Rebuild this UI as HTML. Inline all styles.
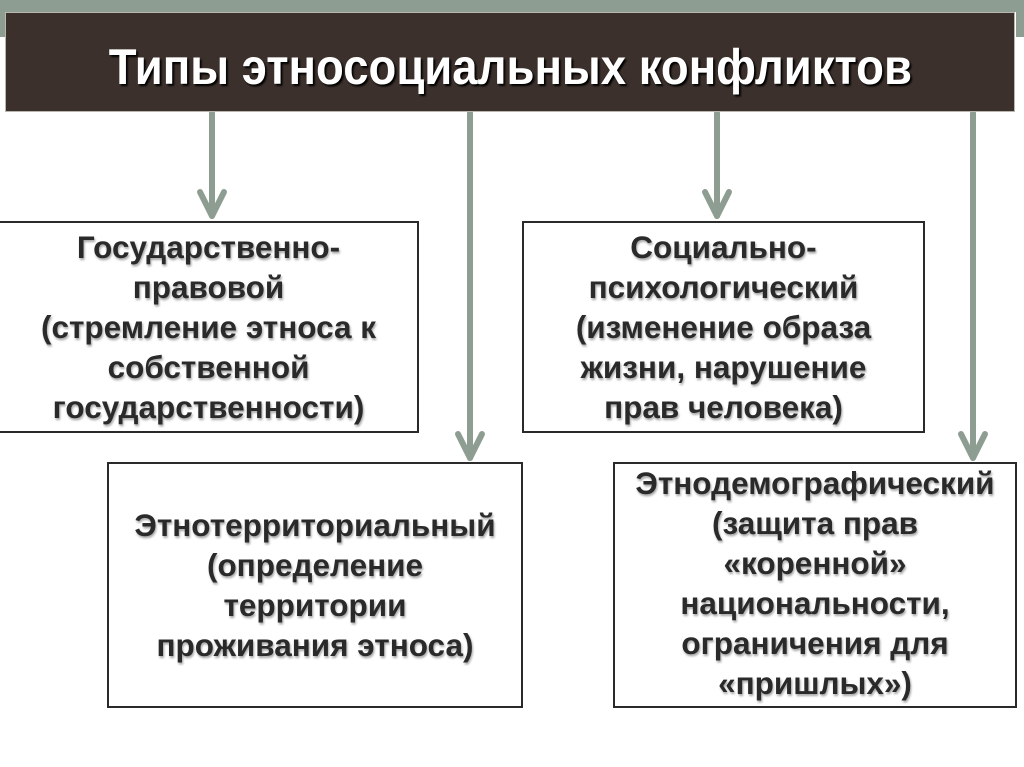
<!DOCTYPE html>
<html><head><meta charset="utf-8"><style>
html,body{margin:0;padding:0}
body{width:1024px;height:767px;position:relative;background:#fff;overflow:hidden;font-family:"Liberation Sans",sans-serif}
.band{position:absolute;left:0;top:0;width:1024px;height:12px;background:#8e9d92}
.bandl{position:absolute;left:0;top:0;width:6px;height:37px;background:#8e9d92}
.bandr{position:absolute;right:0;top:0;width:8px;height:37px;background:#8e9d92}
.title{position:absolute;left:5px;top:12px;width:1010px;height:100px;background:#3b302c;border:1px solid #b8b8b0;box-sizing:border-box;display:flex;align-items:center;justify-content:center}
.title span{display:inline-block;color:#fff;font-family:"Liberation Sans Narrow","Liberation Sans",sans-serif;font-weight:bold;font-size:50px;transform:scaleX(0.91);white-space:nowrap;text-shadow:2px 2px 2px #000;margin-top:9px}
.box{position:absolute;border:2px solid #2a2a2a;box-sizing:border-box;background:#fff;display:flex;align-items:center;justify-content:center;text-align:center;font-weight:bold;font-size:31.5px;line-height:40px;color:#2a2a2a;text-shadow:1px 2px 2px rgba(0,0,0,0.35);white-space:nowrap}
svg{position:absolute;left:0;top:0}
</style></head><body>
<div class="band"></div><div class="bandl"></div><div class="bandr"></div>
<svg width="1024" height="767">
<g stroke="#8e9d92" stroke-width="6" fill="none" stroke-linecap="round" stroke-linejoin="round">
<line x1="212" y1="113" x2="212" y2="216"/><polyline points="200,192 212,216 224,192"/>
<line x1="470" y1="113" x2="470" y2="458"/><polyline points="458,434 470,458 482,434"/>
<line x1="717" y1="113" x2="717" y2="216"/><polyline points="705,192 717,216 729,192"/>
<line x1="973" y1="113" x2="973" y2="458"/><polyline points="961,434 973,458 985,434"/>
</g></svg>
<div class="title"><span>Типы этносоциальных конфликтов</span></div>
<div class="box" style="left:-2px;top:221px;width:421px;height:212px">Государственно-<br>правовой<br>(стремление этноса к<br>собственной<br>государственности)</div>
<div class="box" style="left:522px;top:221px;width:403px;height:212px">Социально-<br>психологический<br>(изменение образа<br>жизни, нарушение<br>прав человека)</div>
<div class="box" style="left:107px;top:462px;width:416px;height:246px">Этнотерриториальный<br>(определение<br>территории<br>проживания этноса)</div>
<div class="box" style="left:613px;top:462px;width:404px;height:246px;padding-bottom:4px">Этнодемографический<br>(защита прав<br>«коренной»<br>национальности,<br>ограничения для<br>«пришлых»)</div>
</body></html>
